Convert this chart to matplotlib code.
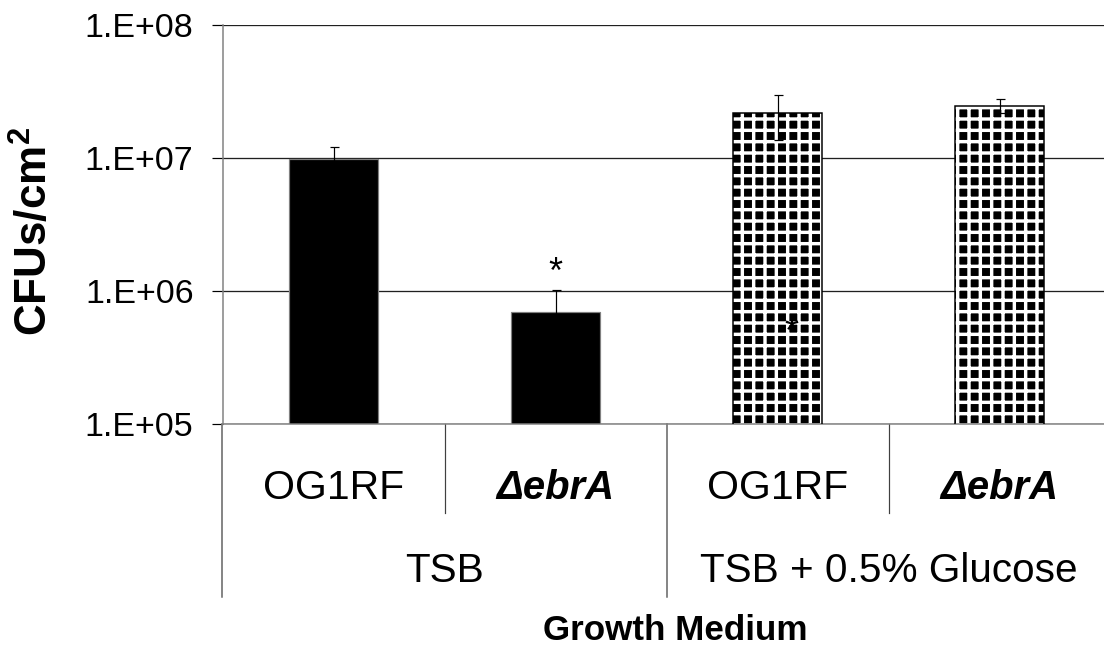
import numpy as np
import matplotlib
matplotlib.use('Agg')
import matplotlib.pyplot as plt
from matplotlib.ticker import NullLocator

# biofilm counts
strains = ['OG1RF', '\u0394ebrA', 'OG1RF', '\u0394ebrA']
media = ['TSB', 'TSB + 0.5% Glucose']
cfus = [9.8e6, 7.0e5, 2.17e7, 2.48e7]
errs = [2.4e6, 3.2e5, 8.0e6, 3.0e6]
yticks = [1e5, 1e6, 1e7, 1e8]
ytick_labels = ['1.E+05', '1.E+06', '1.E+07', '1.E+08']

# dpi 68 so that the '+' hatch (6 lines per inch) gives ~11 px checks
DPI = 68
W, H = 1104, 647


def px(v):
    return v * 72.0 / DPI


plt.rcParams['font.family'] = 'Liberation Sans'
plt.rcParams['mathtext.fontset'] = 'custom'
plt.rcParams['mathtext.rm'] = 'Liberation Sans'
plt.rcParams['mathtext.bf'] = 'Liberation Sans:bold'
plt.rcParams['hatch.linewidth'] = px(3.4)

fig = plt.figure(figsize=(W / DPI, H / DPI), dpi=DPI)
ax = fig.add_axes([222.5 / W, (H - 424) / H, 888 / W, 399 / H])
ax.set_yscale('log')

x = np.arange(len(cfus))
ax.bar(x[:2], cfus[:2], width=0.4, color='black', edgecolor='#808080',
       linewidth=px(1.2), zorder=2)
ax.bar(x[2:], cfus[2:], width=0.4, color='black', edgecolor='white',
       hatch='+', linewidth=0, zorder=2)
ax.bar(x[2:], cfus[2:], width=0.4, fill=False, edgecolor='black',
       linewidth=px(1.5), zorder=3)
ax.errorbar(x, cfus, yerr=errs, fmt='none', ecolor='black',
            elinewidth=px(1.2), capsize=px(4.5), capthick=px(1.2), zorder=4)

# significance marks
ax.text(1, 1.36e6, '*', ha='center', va='center', fontsize=px(36), zorder=5)
ax.text(2.063, 4.8e5, '*', ha='center', va='center', fontsize=px(36),
        zorder=5)

ax.set_xlim(-0.5, 3.5)
ax.set_ylim(1e5, 1e8)
ax.set_yticks(yticks)
ax.set_yticklabels(ytick_labels)
ax.yaxis.set_minor_locator(NullLocator())
ax.set_xticks([])
ax.tick_params(axis='y', length=px(11), width=px(1.2), color='black',
               pad=px(18), labelsize=px(34))
ax.yaxis.grid(True, color='#202020', linewidth=px(1.3))
ax.set_axisbelow(True)

for s in ['top', 'right']:
    ax.spines[s].set_visible(False)
for s in ['left', 'bottom']:
    ax.spines[s].set_color('#808080')
    ax.spines[s].set_linewidth(px(1.5))

# two-level category axis
trans = ax.get_xaxis_transform()
for i, s in enumerate(strains):
    if s.startswith('\u0394'):
        ax.text(i, -0.160, s, transform=trans, ha='center', va='center',
                fontsize=px(40), fontweight='bold', fontstyle='italic')
    else:
        ax.text(i, -0.160, s, transform=trans, ha='center', va='center',
                fontsize=px(41))
for j, m in enumerate(media):
    ax.text(2 * j + 0.5, -0.368, m, transform=trans, ha='center',
            va='center', fontsize=px(40.5))

for xd in [0.5, 2.5]:
    ax.plot([xd, xd], [0, -0.223], transform=trans, clip_on=False,
            color='#404040', linewidth=px(1.2))
for xd in [-0.5, 1.5]:
    ax.plot([xd, xd], [0, -0.434], transform=trans, clip_on=False,
            color='#606060', linewidth=px(1.5))

fig.text(35 / W, 1 - 231 / H, 'CFUs/cm$^{\\mathbf{2}}$', rotation=90,
         ha='center', va='center', fontsize=px(44), fontweight='bold')
fig.text(675 / W, 1 - 631 / H, 'Growth Medium', ha='center', va='center',
         fontsize=px(35), fontweight='bold')

fig.savefig('out.png', dpi=DPI)
